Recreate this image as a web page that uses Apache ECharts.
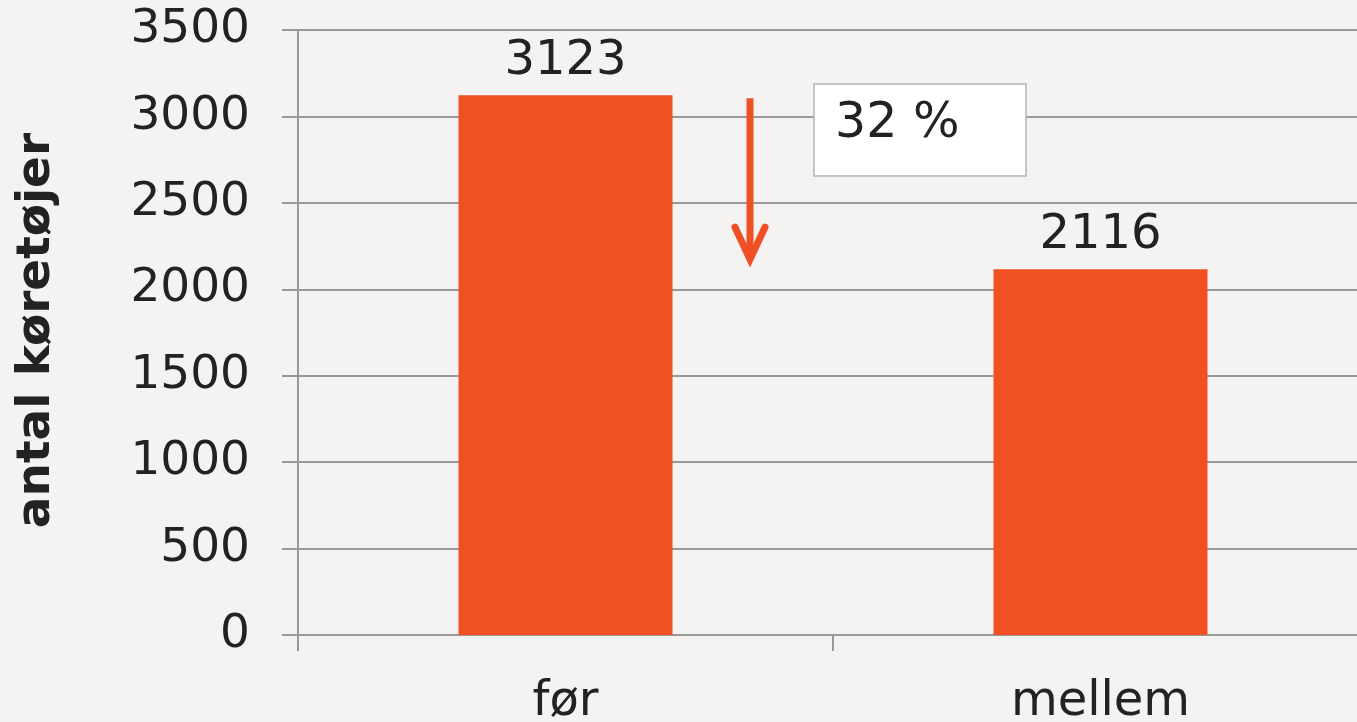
<!DOCTYPE html>
<html><head><meta charset="utf-8">
<script src="https://cdn.jsdelivr.net/npm/echarts@6/dist/echarts.min.js"></script>
<style>html,body{margin:0;padding:0;background:#f4f3f1}#c{width:1357px;height:722px}</style>
</head><body><div id="c"></div>
<script>
const categories = ['før', 'mellem'];
const values = [3123, 2116];
const yAxisName = 'antal køretøjer';
const changeLabel = '32 %';

const chart = echarts.init(document.getElementById('c'));
const FONT = 'DejaVu Sans';
chart.setOption({
  backgroundColor: '#f4f3f1',
  animation: false,
  grid: { left: 298, top: 30, bottom: 87, width: 1070, containLabel: false, outerBoundsMode: 'none' },
  xAxis: {
    type: 'category', data: categories,
    axisLine: { lineStyle: { color: '#999', width: 2 } },
    axisTick: { show: true, length: 16, lineStyle: { color: '#999', width: 2 } },
    axisLabel: { color: '#222', fontFamily: FONT, fontSize: 48, margin: 44 }
  },
  yAxis: {
    type: 'value', min: 0, max: 3500, interval: 500,
    name: yAxisName, nameLocation: 'middle', nameGap: 238, nameRotate: 90,
    nameTextStyle: { color: '#222', fontFamily: FONT, fontSize: 47, fontWeight: 'bold', padding: [0, 0, 0, 4] },
    axisLine: { show: true, lineStyle: { color: '#999', width: 2 } },
    axisTick: { show: true, length: 16, lineStyle: { color: '#999', width: 2 } },
    splitLine: { lineStyle: { color: '#999', width: 2 } },
    axisLabel: { color: '#222', fontFamily: FONT, fontSize: 47, margin: 48, formatter: v => String(v) }
  },
  series: [{
    type: 'bar', data: values, barWidth: '40%',
    itemStyle: { color: '#f05023' },
    label: { show: true, position: 'top', distance: 10, color: '#222', fontFamily: FONT, fontSize: 48 }
  }]
});

// annotation: arrow between the two bar levels and percentage box
const xMid = chart.convertToPixel({ gridIndex: 0 }, [0, 0])[0];
const xMid2 = chart.convertToPixel({ gridIndex: 0 }, [1, 0])[0];
const ax = (xMid + xMid2) / 2 - 83;
const yTop = chart.convertToPixel({ yAxisIndex: 0 }, values[0]) + 3;
const yBot = chart.convertToPixel({ yAxisIndex: 0 }, values[1]) - 10;
chart.setOption({
  graphic: [
    { type: 'line', shape: { x1: ax, y1: yTop, x2: ax, y2: yBot - 3 }, style: { stroke: '#f05023', lineWidth: 7 } },
    { type: 'polyline', shape: { points: [[ax - 15, yBot - 32], [ax, yBot], [ax + 15, yBot - 32]] }, style: { stroke: '#f05023', lineWidth: 7, fill: null, lineCap: 'round', lineJoin: 'miter' } },
    { type: 'rect', shape: { x: 814, y: 84, width: 212, height: 92 }, style: { fill: '#fff', stroke: '#c4c4c4', lineWidth: 2 } },
    { type: 'text', x: 835, y: 124, style: { text: changeLabel, fill: '#222', font: '49px "DejaVu Sans"', verticalAlign: 'middle', align: 'left' } }
  ]
});
</script></body></html>
